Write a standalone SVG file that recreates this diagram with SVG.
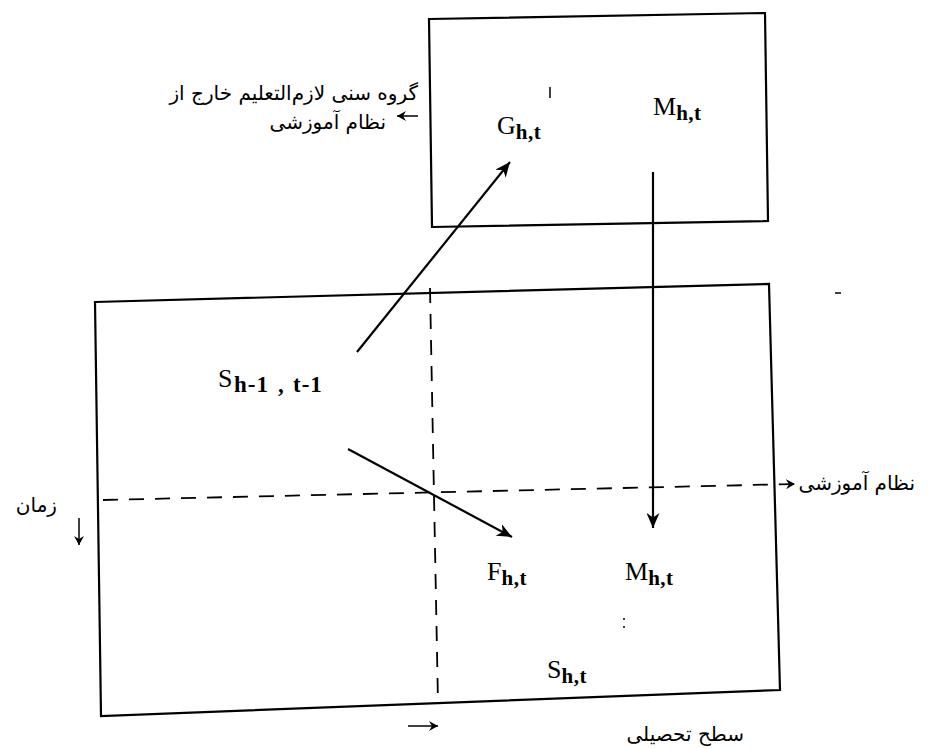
<svg xmlns="http://www.w3.org/2000/svg" width="950" height="749" viewBox="0 0 950 749">
<style>
.box{fill:none;stroke:#000;stroke-width:2.2;stroke-linejoin:miter}
.dash{fill:none;stroke:#000;stroke-width:1.8;stroke-dasharray:15,11}
.conn{fill:none;stroke:#000;stroke-width:2.2}
.sm{fill:none;stroke:#000;stroke-width:1.5}
.v{font-family:"Liberation Serif","Times New Roman",serif;font-size:26px;fill:#000}
.sub{font-family:"Liberation Serif","Times New Roman",serif;font-size:21px;font-weight:bold;letter-spacing:0.5px}
.big{font-size:23px;letter-spacing:1px}
.fa{font-family:"DejaVu Sans","Noto Sans",sans-serif;font-size:20px;fill:#000}
</style>
<defs>
<marker id="ah" markerUnits="userSpaceOnUse" markerWidth="17" markerHeight="13" refX="15" refY="6.5" orient="auto">
<path d="M0,0 L15,6.5 L0,13 L4.5,6.5 z" fill="#000"/>
</marker>
<marker id="sh" markerUnits="userSpaceOnUse" markerWidth="10" markerHeight="10" refX="9" refY="5" orient="auto">
<path d="M0,0 L9,5 L0,10 L3,5 z" fill="#000"/>
</marker>
</defs>

<g id="top-box">
<polygon class="box" points="429,19 765,13 768,221 432,227"/>
<line class="sm" x1="550" y1="87" x2="550" y2="98"/>
</g>

<g id="main-box">
<polygon class="box" points="95,302 769,284 780,690 101,716"/>
<line class="sm" x1="835" y1="293" x2="841" y2="293"/>
<circle cx="624" cy="619" r="1" fill="#000"/>
<circle cx="624" cy="627" r="1" fill="#000"/>
</g>

<g id="grid">
<line class="dash" x1="430" y1="288" x2="438" y2="703"/>
<line class="dash" x1="103" y1="500" x2="795" y2="484" marker-end="url(#sh)"/>
</g>

<g id="node-G">
<text class="v" x="497" y="134">G<tspan class="sub" dy="5">h,t</tspan></text>
</g>
<g id="node-M-top">
<text class="v" x="653" y="115">M<tspan class="sub" dy="5">h,t</tspan></text>
</g>
<g id="node-S-prev">
<text class="v" x="218" y="387">S<tspan class="sub big" dy="5" x="234">h-1</tspan><tspan class="sub big" x="278">,</tspan><tspan class="sub big" x="293">t-1</tspan></text>
</g>
<g id="node-F">
<text class="v" x="487" y="580">F<tspan class="sub" dy="5">h,t</tspan></text>
</g>
<g id="node-M-bottom">
<text class="v" x="625" y="580">M<tspan class="sub" dy="5">h,t</tspan></text>
</g>
<g id="node-S">
<text class="v" x="547" y="678">S<tspan class="sub" dy="5">h,t</tspan></text>
</g>

<g id="connectors">
<line class="conn" x1="357" y1="352" x2="510" y2="162" marker-end="url(#ah)"/>
<line class="conn" x1="348" y1="449" x2="512" y2="537" marker-end="url(#ah)"/>
<line class="conn" x1="653" y1="172" x2="653" y2="528" marker-end="url(#ah)"/>
</g>

<g id="labels">
<text class="fa" x="418" y="100" text-anchor="end">گروه سنی لازم‌التعلیم خارج از</text>
<text class="fa" x="386" y="129" text-anchor="end">نظام آموزشی</text>
<line class="sm" x1="418" y1="116" x2="397" y2="116" marker-end="url(#sh)"/>
<text class="fa" x="915" y="490" text-anchor="end">نظام آموزشی</text>
<text class="fa" x="57" y="512" text-anchor="end">زمان</text>
<line class="sm" x1="79" y1="518" x2="79" y2="545" marker-end="url(#sh)"/>
<line class="sm" x1="408" y1="726" x2="438" y2="726" marker-end="url(#sh)"/>
<text class="fa" x="744" y="741" text-anchor="end">سطح تحصیلی</text>
</g>
</svg>
